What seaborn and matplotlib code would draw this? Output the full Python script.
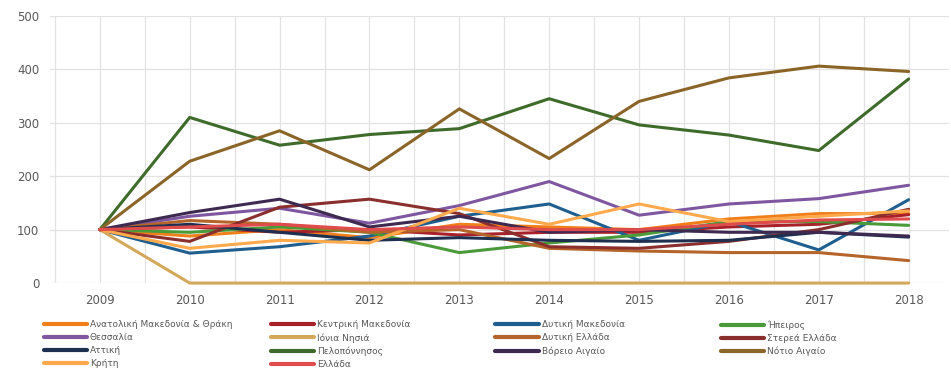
import pandas as pd
import matplotlib.pyplot as plt
import seaborn as sns
import numpy as np
from matplotlib.lines import Line2D

# Data (index, 2009 = 100)
years = list(range(2009, 2019))
regions = ["Ανατολική Μακεδονία & Θράκη", "Κεντρική Μακεδονία", "Δυτική Μακεδονία", "Ήπειρος",
           "Θεσσαλία", "Ιόνια Νησιά", "Δυτική Ελλάδα", "Στερεά Ελλάδα",
           "Αττική", "Πελοπόννησος", "Βόρειο Αιγαίο", "Νότιο Αιγαίο",
           "Κρήτη", "Ελλάδα"]
colors = ["#F07F1A", "#A8202A", "#1F5F8F", "#4A9A3A",
          "#7E57A0", "#D4A85A", "#B5652A", "#8B2E2E",
          "#1F2F4F", "#3E6B2A", "#3E2A50", "#8B6428",
          "#FFA94D", "#E04B4B"]

anat_mak = [100, 88, 100, 85, 110, 105, 100, 120, 130, 130]
kent_mak = [100, 105, 95, 100, 90, 95, 95, 105, 110, 128]
dyt_mak = [100, 56, 68, 88, 125, 148, 80, 115, 62, 156]
ipeiros = [100, 95, 105, 95, 57, 75, 90, 115, 115, 108]
thessalia = [100, 125, 140, 112, 145, 190, 127, 148, 158, 183]
ionia = [100, 0, 0, 0, 0, 0, 0, 0, 0, 0]
dyt_ellada = [100, 117, 110, 95, 100, 65, 60, 57, 57, 42]
sterea = [100, 78, 142, 157, 130, 68, 65, 78, 100, 138]
attiki = [100, 110, 95, 80, 85, 80, 78, 80, 95, 86]
peloponnisos = [100, 310, 258, 278, 289, 345, 296, 277, 248, 382]
voreio = [100, 132, 157, 105, 125, 95, 100, 95, 95, 88]
notio = [100, 228, 285, 212, 326, 233, 340, 384, 406, 396]
kriti = [100, 65, 80, 75, 140, 110, 148, 115, 125, 135]
ellada = [100, 105, 110, 100, 105, 100, 100, 110, 118, 120]

series = [anat_mak, kent_mak, dyt_mak, ipeiros, thessalia, ionia, dyt_ellada, sterea,
          attiki, peloponnisos, voreio, notio, kriti, ellada]

rows = []
for name, vals in zip(regions, series):
    for yr, v in zip(years, vals):
        rows.append({"year": yr, "region": name, "value": v})
df = pd.DataFrame(rows)
palette = dict(zip(regions, colors))

sns.set_style("white")
plt.rcParams['font.family'] = ['DejaVu Sans']

fig = plt.figure(figsize=(9.51, 3.70), dpi=100)
ax = fig.add_axes([0.053, 0.235, 0.945, 0.722])

sns.lineplot(data=df, x="year", y="value", hue="region", palette=palette,
             hue_order=regions, linewidth=2.2, legend=False, ax=ax)
for ln in ax.lines:
    ln.set_clip_on(False)

ax.set_xlim(2008.45, 2018.45)
ax.set_ylim(0, 500)
ax.set_xticks(years)
ax.set_xticks(np.arange(2008.5, 2018.5, 1), minor=True)
ax.set_yticks(range(0, 501, 100))
ax.grid(True, which="major", color="#E3E3E3", linewidth=0.9)
ax.grid(True, which="minor", axis="x", color="#E3E3E3", linewidth=0.9)
ax.set_axisbelow(True)
for s in ax.spines.values():
    s.set_visible(False)
ax.tick_params(axis="both", which="both", length=0, labelsize=8.5, labelcolor="#595959", pad=8)
ax.set_xlabel("")
ax.set_ylabel("")

# legend in 4 columns, row-major order
col_x = [0.046, 0.285, 0.521, 0.758]
for c in range(4):
    idx = list(range(c, len(regions), 4))
    handles = [Line2D([0], [0], color=colors[i], lw=3) for i in idx]
    labels = [regions[i] for i in idx]
    fig.legend(handles, labels, loc="upper left", bbox_to_anchor=(col_x[c], 0.135),
               frameon=False, fontsize=6.5, handlelength=4.8, handletextpad=0.3,
               labelspacing=0.45, borderaxespad=0, borderpad=0, labelcolor="#595959")

plt.savefig("out.png", dpi=100)
